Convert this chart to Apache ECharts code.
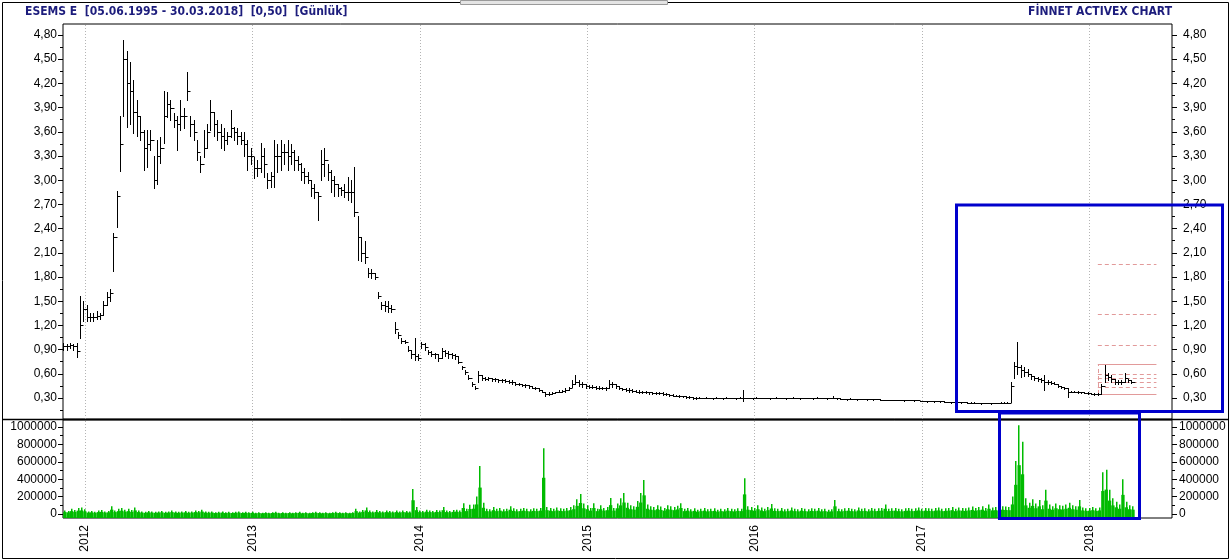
<!DOCTYPE html>
<html><head><meta charset="utf-8">
<script src="https://cdn.jsdelivr.net/npm/echarts@6/dist/echarts.min.js"></script>
<style>html,body{margin:0;padding:0;background:#fff}#c{width:1231px;height:560px}</style>
</head><body><div id="c"></div>
<script>
// ---- data (weekly samples, first at START_YEAR, one per STEP years) ----
const START_YEAR = 2011.87;
const STEP = 0.02;
const hi = [
0.98,0.97,0.98,0.97,0.98,1.56,1.50,1.45,1.36,1.35,
1.38,1.36,1.50,1.62,1.65,2.34,2.86,3.79,4.74,4.60,
4.46,4.24,4.00,3.80,3.62,3.62,3.62,3.30,3.50,3.53,
4.11,4.09,4.00,3.83,3.80,3.99,3.90,4.34,3.80,3.75,
3.50,3.30,3.62,3.70,3.99,3.85,3.75,3.70,3.65,3.60,
3.87,3.66,3.65,3.60,3.60,3.50,3.40,3.29,3.25,3.46,
3.40,3.09,3.10,3.50,3.45,3.50,3.45,3.50,3.45,3.38,
3.30,3.21,3.15,3.10,3.00,2.95,2.85,3.37,3.40,3.20,
3.13,3.05,2.95,2.92,2.95,3.04,3.00,3.16,2.55,2.30,
2.25,1.91,1.90,1.85,1.61,1.49,1.50,1.50,1.45,1.24,
1.12,1.04,1.02,0.95,0.90,1.04,0.85,1.00,0.98,0.90,
0.88,0.86,0.84,0.92,0.90,0.88,0.86,0.85,0.82,0.70,
0.65,0.58,0.50,0.45,0.64,0.58,0.56,0.56,0.55,0.55,
0.54,0.54,0.53,0.52,0.52,0.50,0.49,0.48,0.48,0.46,
0.45,0.44,0.42,0.40,0.37,0.37,0.37,0.38,0.40,0.40,
0.42,0.44,0.52,0.58,0.52,0.50,0.48,0.46,0.46,0.45,
0.45,0.44,0.44,0.52,0.50,0.48,0.45,0.43,0.42,0.42,
0.41,0.40,0.40,0.39,0.39,0.38,0.38,0.38,0.37,0.37,
0.36,0.35,0.35,0.34,0.34,0.33,0.32,0.32,0.31,0.31,
0.31,0.30,0.31,0.30,0.30,0.31,0.30,0.30,0.31,0.30,
0.30,0.30,0.31,0.40,0.30,0.30,0.30,0.31,0.30,0.30,
0.30,0.30,0.30,0.31,0.30,0.30,0.30,0.30,0.31,0.30,
0.30,0.30,0.30,0.30,0.30,0.31,0.30,0.30,0.30,0.30,
0.32,0.30,0.30,0.29,0.29,0.30,0.29,0.29,0.29,0.29,
0.29,0.29,0.29,0.29,0.29,0.28,0.28,0.28,0.28,0.28,
0.27,0.27,0.28,0.27,0.27,0.27,0.26,0.26,0.26,0.26,
0.26,0.26,0.26,0.26,0.25,0.25,0.25,0.25,0.25,0.25,
0.25,0.25,0.25,0.24,0.24,0.24,0.24,0.24,0.24,0.24,
0.25,0.25,0.25,0.50,0.75,1.00,0.71,0.68,0.66,0.60,
0.57,0.56,0.55,0.58,0.52,0.51,0.50,0.47,0.45,0.44,
0.42,0.39,0.39,0.39,0.38,0.37,0.37,0.36,0.36,0.36,
0.48,0.71,0.61,0.58,0.53,0.52,0.52,0.61,0.54,0.52];
const lo = [
0.90,0.90,0.92,0.90,0.81,1.05,1.25,1.26,1.25,1.26,
1.28,1.28,1.33,1.45,1.50,1.88,2.42,3.11,3.80,3.66,
3.70,3.58,3.55,3.50,3.13,3.16,3.38,2.90,2.95,3.21,
3.46,3.78,3.75,3.66,3.38,3.62,3.65,3.99,3.55,3.50,
3.25,3.10,3.29,3.40,3.62,3.55,3.50,3.40,3.37,3.45,
3.54,3.50,3.45,3.45,3.30,3.13,3.20,3.03,3.05,3.10,
3.04,2.90,2.92,2.92,3.10,3.13,3.20,3.13,3.20,3.13,
3.13,3.00,2.96,2.96,2.80,2.78,2.51,3.00,3.05,3.00,
2.85,2.80,2.80,2.82,2.79,2.75,2.73,2.55,2.01,2.00,
1.97,1.80,1.79,1.78,1.54,1.40,1.38,1.37,1.37,1.11,
1.04,0.98,0.98,0.88,0.80,0.77,0.77,0.92,0.90,0.85,
0.82,0.80,0.76,0.80,0.82,0.80,0.80,0.78,0.73,0.66,
0.60,0.53,0.45,0.41,0.50,0.52,0.52,0.52,0.51,0.51,
0.50,0.50,0.50,0.49,0.48,0.46,0.46,0.45,0.44,0.43,
0.42,0.41,0.39,0.37,0.33,0.34,0.35,0.36,0.37,0.37,
0.38,0.40,0.44,0.48,0.45,0.44,0.43,0.42,0.42,0.41,
0.41,0.41,0.40,0.42,0.44,0.43,0.41,0.40,0.39,0.38,
0.38,0.37,0.36,0.36,0.36,0.35,0.35,0.35,0.35,0.34,
0.34,0.33,0.32,0.32,0.31,0.31,0.30,0.30,0.29,0.29,
0.30,0.30,0.30,0.30,0.29,0.30,0.30,0.29,0.30,0.30,
0.30,0.29,0.30,0.26,0.30,0.30,0.29,0.30,0.30,0.30,
0.30,0.29,0.30,0.30,0.30,0.30,0.29,0.30,0.30,0.30,
0.29,0.30,0.30,0.30,0.29,0.30,0.30,0.30,0.29,0.30,
0.30,0.29,0.29,0.29,0.28,0.29,0.29,0.28,0.29,0.29,
0.28,0.29,0.28,0.29,0.28,0.28,0.27,0.28,0.28,0.27,
0.27,0.26,0.27,0.27,0.26,0.27,0.26,0.26,0.25,0.26,
0.25,0.26,0.25,0.25,0.25,0.24,0.25,0.25,0.24,0.25,
0.24,0.24,0.24,0.24,0.23,0.24,0.24,0.23,0.24,0.24,
0.24,0.24,0.24,0.25,0.55,0.60,0.56,0.57,0.57,0.54,
0.52,0.51,0.50,0.40,0.48,0.48,0.47,0.44,0.42,0.41,
0.31,0.37,0.37,0.36,0.36,0.36,0.35,0.35,0.34,0.34,
0.35,0.50,0.52,0.50,0.48,0.47,0.48,0.50,0.50,0.49];
const cl = [
0.94,0.95,0.96,0.95,0.88,1.20,1.40,1.30,1.30,1.30,
1.32,1.33,1.45,1.55,1.60,2.30,2.80,3.45,4.50,4.20,
4.10,3.85,3.80,3.60,3.40,3.45,3.50,3.00,3.30,3.40,
3.80,3.95,3.90,3.75,3.70,3.80,3.80,4.10,3.70,3.60,
3.35,3.20,3.40,3.60,3.85,3.70,3.60,3.55,3.50,3.55,
3.65,3.60,3.55,3.50,3.45,3.30,3.30,3.15,3.15,3.30,
3.20,3.00,3.05,3.30,3.30,3.35,3.35,3.30,3.35,3.25,
3.20,3.10,3.05,3.00,2.90,2.85,2.80,3.20,3.25,3.10,
3.00,2.95,2.90,2.88,2.85,2.85,2.85,2.60,2.30,2.10,
2.05,1.85,1.85,1.80,1.56,1.45,1.44,1.42,1.40,1.15,
1.08,1.01,1.00,0.90,0.85,0.82,0.80,0.97,0.93,0.87,
0.85,0.84,0.80,0.88,0.86,0.84,0.83,0.82,0.75,0.68,
0.62,0.55,0.47,0.43,0.58,0.55,0.54,0.55,0.53,0.53,
0.52,0.52,0.51,0.50,0.50,0.48,0.47,0.46,0.46,0.45,
0.43,0.42,0.40,0.38,0.35,0.35,0.36,0.37,0.38,0.39,
0.40,0.42,0.48,0.50,0.48,0.47,0.45,0.44,0.44,0.43,
0.43,0.42,0.42,0.47,0.47,0.45,0.43,0.41,0.40,0.40,
0.39,0.38,0.38,0.37,0.37,0.37,0.36,0.36,0.36,0.35,
0.35,0.34,0.33,0.33,0.32,0.32,0.31,0.31,0.30,0.30,
0.30,0.30,0.30,0.30,0.30,0.30,0.30,0.30,0.30,0.30,
0.30,0.30,0.30,0.30,0.30,0.30,0.30,0.30,0.30,0.30,
0.30,0.30,0.30,0.30,0.30,0.30,0.30,0.30,0.30,0.30,
0.30,0.30,0.30,0.30,0.30,0.30,0.30,0.30,0.30,0.30,
0.30,0.30,0.29,0.29,0.29,0.29,0.29,0.29,0.29,0.29,
0.29,0.29,0.29,0.29,0.28,0.28,0.28,0.28,0.28,0.28,
0.27,0.27,0.27,0.27,0.27,0.27,0.26,0.26,0.26,0.26,
0.26,0.26,0.26,0.25,0.25,0.25,0.25,0.25,0.25,0.25,
0.24,0.24,0.24,0.24,0.24,0.24,0.24,0.24,0.24,0.24,
0.24,0.24,0.24,0.45,0.70,0.68,0.65,0.62,0.60,0.57,
0.55,0.53,0.52,0.50,0.50,0.49,0.48,0.45,0.44,0.42,
0.38,0.38,0.38,0.37,0.37,0.36,0.36,0.35,0.35,0.35,
0.45,0.58,0.56,0.54,0.50,0.50,0.50,0.55,0.52,0.50];
// volume, thousands of shares
const vol = [
40,35,60,45,70,75,55,30,35,25,
40,45,30,35,90,40,60,70,50,60,
45,75,40,30,25,35,30,25,30,35,
25,30,40,30,25,30,35,25,30,40,
35,50,30,25,30,20,25,30,20,25,
20,25,30,20,25,20,25,15,20,15,
20,15,20,25,15,20,15,20,15,20,
25,15,20,15,20,25,20,15,20,15,
20,25,20,15,20,15,20,60,30,45,
75,40,30,45,35,30,40,35,30,40,
30,40,35,30,287,80,40,35,50,40,
35,45,40,80,40,35,45,50,40,125,
60,105,110,200,552,130,60,55,80,60,
70,55,60,90,65,55,60,70,60,55,
65,60,70,757,80,70,60,75,65,60,
70,80,100,170,230,120,100,70,125,60,
100,70,80,185,70,120,180,240,130,100,
90,150,240,390,110,90,80,100,85,70,
100,90,80,95,125,60,70,55,65,50,
60,70,55,60,65,50,60,55,70,60,
55,65,60,410,90,80,70,100,75,60,
80,115,65,60,70,55,60,75,60,55,
70,60,55,65,60,70,55,60,50,55,
160,60,55,65,70,60,55,75,60,65,
55,70,60,65,70,110,60,65,70,60,
55,65,70,60,65,75,60,70,65,60,
70,75,60,65,70,80,60,75,70,65,
75,85,70,80,90,70,110,75,80,70,
90,85,80,200,610,1020,830,180,130,170,
120,160,100,280,110,90,120,100,95,110,
130,100,90,160,75,65,70,80,65,75,
480,510,280,180,140,110,400,140,100,90];
const years = [2012, 2013, 2014, 2015, 2016, 2017, 2018];
const priceTicks = [0.30,0.60,0.90,1.20,1.50,1.80,2.10,2.40,2.70,3.00,3.30,3.60,3.90,4.20,4.50,4.80];
const priceMinorTicks = [0.15,0.45,0.75,1.05,1.35,1.65,1.95,2.25,2.55,2.85,3.15,3.45,3.75,4.05,4.35,4.65];
const volTicks = [0,200000,400000,600000,800000,1000000];
const volMinorTicks = [100000,300000,500000,700000,900000];
const fibSpan = [2018.05, 2018.40];
const fibBox = [0.35, 0.72];
const fibLevels = [0.43, 0.49, 0.54, 0.59, 0.95, 1.34, 1.96];

const XMIN = 2011.869, XMAX = 2018.493;
const fmtPrice = v => v.toFixed(2).replace('.', ',');
const FONT = '"Liberation Sans", Arial, sans-serif';

const chart = echarts.init(document.getElementById('c'), null, {renderer: 'canvas'});

function yAx(grid, pos, min, max, ticks, labels, margin, tickLen, fmt) {
  return {
    type: 'value', gridIndex: grid, position: pos, min: min, max: max,
    axisLine: {show: false},
    splitLine: {show: false},
    axisTick: {show: true, customValues: ticks, length: tickLen, lineStyle: {color: '#000'}},
    axisLabel: {show: labels, customValues: ticks, margin: margin, color: '#000',
      fontFamily: FONT, fontSize: 12, formatter: fmt}
  };
}

const priceData = hi.map((h, i) => [START_YEAR + i * STEP, h, lo[i], cl[i]]);
const volData = vol.map((v, i) => [START_YEAR + i * STEP, v * 1000]);

const gridLineStyle = {color: '#b4b4b4', type: [1, 2], width: 1};
const fibColor = '#e29a9a';
const GREEN = '#00bb00';

const fibMark = [];
fibLevels.forEach(v => fibMark.push([{coord: [fibSpan[0], v], lineStyle: {type: [4, 3], color: fibColor}}, {coord: [fibSpan[1], v]}]));
fibBox.forEach(v => fibMark.push([{coord: [fibSpan[0], v], lineStyle: {type: 'solid', color: fibColor}}, {coord: [fibSpan[1], v]}]));
fibMark.push([{coord: [fibSpan[0], fibBox[0]], lineStyle: {type: [4, 3], color: fibColor}}, {coord: [fibSpan[0], fibBox[1]]}]);

const option = {
  animation: false,
  backgroundColor: '#fff',
  grid: [
    {left: 63, top: 24, width: 1109, height: 395, show: true, borderColor: '#000', borderWidth: 1, backgroundColor: 'transparent'},
    {left: 63, top: 420, width: 1109, height: 98, show: true, borderColor: '#000', borderWidth: 1, backgroundColor: 'transparent'}
  ],
  xAxis: [
    {type: 'value', gridIndex: 0, min: XMIN, max: XMAX, axisLine: {show: false}, axisTick: {show: false}, axisLabel: {show: false}, splitLine: {show: false}},
    {type: 'value', gridIndex: 1, min: XMIN, max: XMAX, axisLine: {show: false}, splitLine: {show: false},
      axisTick: {show: true, customValues: years, length: 4, lineStyle: {color: '#000'}},
      axisLabel: {customValues: years, rotate: 90, margin: 7, color: '#000', fontFamily: FONT, fontSize: 12, formatter: v => String(v)}}
  ],
  yAxis: [
    yAx(0, 'left', 0.04, 4.936, priceTicks, true, 6, 5, fmtPrice),
    yAx(0, 'right', 0.04, 4.936, priceTicks, true, 11, 5, fmtPrice),
    yAx(0, 'left', 0.04, 4.936, priceMinorTicks, false, 6, 3, fmtPrice),
    yAx(0, 'right', 0.04, 4.936, priceMinorTicks, false, 6, 3, fmtPrice),
    yAx(1, 'left', -45977, 1080460, volTicks, true, 6, 5, v => String(Math.round(v))),
    yAx(1, 'right', -45977, 1080460, volTicks, true, 7, 5, v => String(Math.round(v))),
    yAx(1, 'left', -45977, 1080460, volMinorTicks, false, 6, 3, v => ''),
    yAx(1, 'right', -45977, 1080460, volMinorTicks, false, 6, 3, v => '')
  ],
  series: [
    {type: 'scatter', xAxisIndex: 0, yAxisIndex: 0, data: [], z: 1, silent: true,
      markLine: {silent: true, symbol: 'none', label: {show: false}, lineStyle: gridLineStyle, animation: false,
        data: years.map(y => ({xAxis: y}))}},
    {type: 'scatter', xAxisIndex: 1, yAxisIndex: 4, data: [], z: 1, silent: true,
      markLine: {silent: true, symbol: 'none', label: {show: false}, lineStyle: gridLineStyle, animation: false,
        data: years.map(y => ({xAxis: y}))}},
    {type: 'scatter', xAxisIndex: 0, yAxisIndex: 0, data: [], z: 3, silent: true,
      markLine: {silent: true, symbol: 'none', label: {show: false}, animation: false,
        lineStyle: {width: 1, color: fibColor}, data: fibMark}},
    {type: 'custom', xAxisIndex: 0, yAxisIndex: 0, z: 5, silent: true, clip: true,
      data: priceData,
      renderItem: function (params, api) {
        const x = api.value(0);
        const a = api.coord([x, Math.max(api.value(1), api.value(2))]);
        const b = api.coord([x, Math.min(api.value(1), api.value(2))]);
        const c = api.coord([x, api.value(3)]);
        const d = api.coord([x + STEP, api.value(3)]);
        const px = Math.round(a[0]) + 0.5;
        const cy = Math.round(c[1]) + 0.5;
        return {type: 'group', children: [
          {type: 'line', shape: {x1: px, y1: Math.round(a[1]), x2: px, y2: Math.round(b[1]) + 1}, style: {stroke: '#000', lineWidth: 1}},
          {type: 'line', shape: {x1: px, y1: cy, x2: Math.round(d[0]) + 0.5, y2: cy}, style: {stroke: '#000', lineWidth: 1}}
        ]};
      }},
    {type: 'custom', xAxisIndex: 1, yAxisIndex: 4, z: 5, silent: true,
      data: volData,
      renderItem: function (params, api) {
        const x = api.value(0);
        const v = api.value(1);
        const t = api.coord([x, v]);
        const m = api.coord([x, v * 0.55]);
        const r = api.coord([x + STEP, v]);
        const bottom = params.coordSys.y + params.coordSys.height;
        const sx = Math.round(t[0] + 1);
        return {type: 'group', children: [
          {type: 'rect', shape: {x: t[0], y: m[1], width: r[0] - t[0], height: bottom - m[1]}, style: {fill: GREEN}},
          {type: 'rect', shape: {x: sx, y: t[1], width: 1.5, height: bottom - t[1]}, style: {fill: GREEN}}
        ]};
      }}
  ],
  graphic: [
    {type: 'rect', z: 50, shape: {x: 2.5, y: 2.5, width: 1226, height: 556}, style: {fill: 'none', stroke: '#000', lineWidth: 1}},
    {type: 'rect', z: 51, shape: {x: 460.5, y: 0.5, width: 207, height: 4}, style: {fill: '#e4e4e4', stroke: '#9a9a9a', lineWidth: 1}},
    {type: 'line', z: 50, shape: {x1: 2, y1: 419.5, x2: 1229, y2: 419.5}, style: {stroke: '#000', lineWidth: 1.5}},
    {type: 'text', z: 50, x: 25, y: 6, style: {text: 'ESEMS E  [05.06.1995 - 30.03.2018]  [0,50]  [Günlük]',
      font: 'bold 12px "Liberation Sans Narrow", "DejaVu Sans Condensed", Arial, sans-serif', fill: '#1c1c7c'}},
    {type: 'text', z: 50, x: 1172, y: 6, style: {text: 'FİNNET ACTIVEX CHART', align: 'right',
      font: 'bold 12px "Liberation Sans Narrow", "DejaVu Sans Condensed", Arial, sans-serif', fill: '#1c1c7c'}},
    {type: 'rect', z: 100, shape: {x: 956.5, y: 205, width: 266, height: 206.5}, style: {fill: 'none', stroke: '#0000cc', lineWidth: 3}},
    {type: 'rect', z: 100, shape: {x: 999.5, y: 413, width: 140, height: 105.5}, style: {fill: 'none', stroke: '#0000cc', lineWidth: 3}}
  ]
};
chart.setOption(option);
</script>
</body></html>
